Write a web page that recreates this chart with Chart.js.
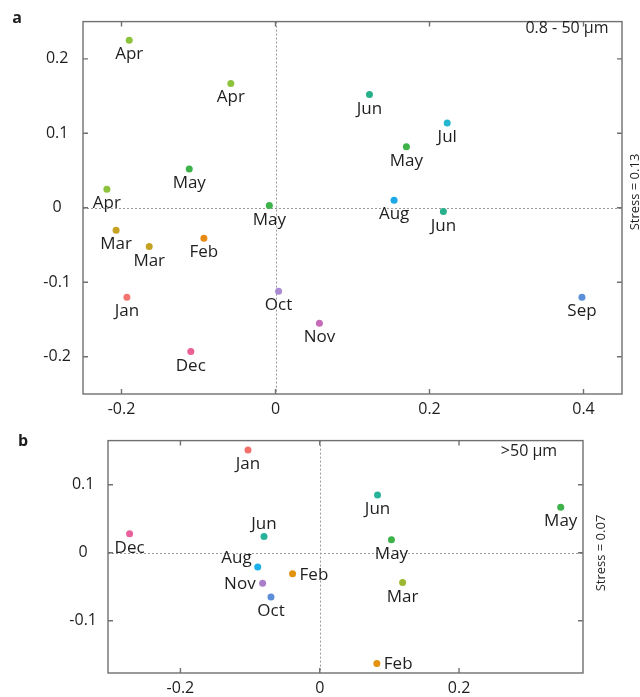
<!DOCTYPE html>
<html>
<head>
<meta charset="utf-8">
<script src="https://cdn.jsdelivr.net/npm/chart.js@4"></script>
<style>
  body { margin: 0; background: #fff; }
  #wrap { position: relative; width: 640px; height: 697px; }
  #chartA { position: absolute; left: 0; top: 0; }
  #chartB { position: absolute; left: 0; top: 420px; }
</style>
</head>
<body>
<div id="wrap">
  <canvas id="chartA" width="640" height="420"></canvas>
  <canvas id="chartB" width="640" height="277"></canvas>
</div>
<script>
// panel a: 0.8 - 50 um
const monthsA = ['Apr', 'Apr', 'May', 'Apr', 'May', 'Mar', 'Mar', 'Feb', 'Jan', 'Dec', 'Oct', 'Nov', 'Sep', 'Aug', 'Jun', 'Jun', 'Jul', 'May'];
const xA = [-0.190, -0.058, -0.112, -0.219, -0.008, -0.207, -0.164, -0.093, -0.193, -0.110, 0.004, 0.057, 0.398, 0.154, 0.218, 0.122, 0.223, 0.170];
const yA = [0.225, 0.167, 0.052, 0.025, 0.003, -0.030, -0.052, -0.041, -0.120, -0.193, -0.112, -0.155, -0.120, 0.010, -0.005, 0.152, 0.114, 0.082];
const xTicksA = [-0.2, 0, 0.2, 0.4];
const yTicksA = [-0.2, -0.1, 0, 0.1, 0.2];

// panel b: >50 um
const monthsB = ['Jan', 'Dec', 'Jun', 'Aug', 'Feb', 'Nov', 'Oct', 'Jun', 'May', 'May', 'Mar', 'Feb'];
const xB = [-0.103, -0.273, -0.080, -0.089, -0.039, -0.082, -0.070, 0.083, 0.346, 0.103, 0.119, 0.082];
const yB = [0.151, 0.028, 0.024, -0.021, -0.031, -0.045, -0.065, 0.085, 0.067, 0.019, -0.044, -0.163];
const xTicksB = [-0.2, 0, 0.2];
const yTicksB = [-0.1, 0, 0.1];

// styles
const colorsA = ['#8dc23c', '#8dc23c', '#3db34a', '#8dc23c', '#3db34a', '#c6a223', '#c6a223', '#e88b12', '#f2766f', '#eb5f95',
  '#a98ad0', '#c56bb8', '#5b8fd9', '#1aa9e6', '#27b089', '#27b089', '#25b6cf', '#3db34a'];
const colorsB = ['#f2706b', '#e8609c', '#26b39a', '#1ab0ea', '#e3930f', '#aa7ec8', '#5f8ed8', '#26b39a', '#3db34a', '#3db34a', '#9ab830', '#e3930f'];
const posA = monthsA.map(() => 'b');
const posB = ['b', 'b', 'a', 'al', 'r', 'l', 'b', 'b', 'b', 'b', 'b', 'r'];

Chart.defaults.font.family = '"Open Sans", sans-serif';
Chart.defaults.color = '#1e1e1e';

const framePlugin = {
  id: 'frame',
  beforeDatasetsDraw(chart, args, o) {
    const ctx = chart.ctx;
    const a = chart.chartArea;
    const sx = chart.scales.x, sy = chart.scales.y;
    ctx.save();
    ctx.strokeStyle = '#9a9a9a';
    ctx.lineWidth = 1;
    ctx.setLineDash([2, 2]);
    let x0 = Math.round(sx.getPixelForValue(0)) + 0.5;
    let y0 = Math.round(sy.getPixelForValue(0)) + 0.5;
    ctx.beginPath();
    ctx.moveTo(x0, a.top); ctx.lineTo(x0, a.bottom);
    ctx.moveTo(a.left, y0); ctx.lineTo(a.right, y0);
    ctx.stroke();
    ctx.setLineDash([]);
    ctx.strokeStyle = '#707070';
    ctx.lineWidth = 1.4;
    ctx.strokeRect(a.left, a.top, a.right - a.left, a.bottom - a.top);
    ctx.beginPath();
    sx.ticks.forEach(t => {
      let p = sx.getPixelForValue(t.value);
      ctx.moveTo(p, a.bottom); ctx.lineTo(p, a.bottom - 5);
      ctx.moveTo(p, a.top); ctx.lineTo(p, a.top + 5);
    });
    sy.ticks.forEach(t => {
      let p = sy.getPixelForValue(t.value);
      ctx.moveTo(a.left, p); ctx.lineTo(a.left + 5, p);
      ctx.moveTo(a.right, p); ctx.lineTo(a.right - 5, p);
    });
    ctx.stroke();
    ctx.restore();
  },
  afterDatasetsDraw(chart, args, o) {
    const ctx = chart.ctx;
    const pts = chart.getDatasetMeta(0).data;
    ctx.save();
    ctx.fillStyle = '#1e1e1e';
    ctx.font = '17px "Open Sans"';
    pts.forEach((pt, i) => {
      let name = o.names[i];
      let pos = o.pos[i];
      if (pos === 'b') {
        ctx.textAlign = 'center';
        ctx.fillText(name, pt.x, pt.y + 19);
      } else if (pos === 'a') {
        ctx.textAlign = 'center';
        ctx.fillText(name, pt.x, pt.y - 7);
      } else if (pos === 'al') {
        ctx.textAlign = 'right';
        ctx.fillText(name, pt.x - 6, pt.y - 4);
      } else if (pos === 'l') {
        ctx.textAlign = 'right';
        ctx.fillText(name, pt.x - 7, pt.y + 6);
      } else {
        ctx.textAlign = 'left';
        ctx.fillText(name, pt.x + 7, pt.y + 6);
      }
    });
    // corner text, panel letter, stress
    ctx.textAlign = 'center';
    ctx.font = '16px "Open Sans"';
    ctx.fillText(o.corner[0], o.corner[1], o.corner[2]);
    ctx.font = 'bold 16px "Open Sans"';
    ctx.textBaseline = 'middle';
    ctx.fillText(o.letter[0], o.letter[1], o.letter[2]);
    ctx.font = '13px "Open Sans"';
    ctx.translate(o.stress[1], o.stress[2]);
    ctx.rotate(-Math.PI / 2);
    ctx.fillText(o.stress[0], 0, 0);
    ctx.restore();
  }
};

function makeChart(id, xs, ys, colors, xTicks, yTicks, range, pad, yWidth, xHeight, yPad, extra) {
  return new Chart(document.getElementById(id), {
    type: 'scatter',
    data: {
      datasets: [{
        data: xs.map((x, i) => ({ x: x, y: ys[i] })),
        backgroundColor: colors,
        borderWidth: 0,
        pointRadius: 3.5,
        pointHoverRadius: 3.5
      }]
    },
    options: {
      responsive: false,
      animation: false,
      events: [],
      layout: { padding: pad },
      plugins: { legend: { display: false }, tooltip: { enabled: false }, frame: extra },
      scales: {
        x: {
          min: range[0], max: range[1],
          grid: { display: false, drawTicks: false },
          border: { display: false },
          afterBuildTicks: s => { s.ticks = xTicks.map(v => ({ value: v })); },
          afterFit: s => { s.height = xHeight; },
          ticks: { padding: 6, font: { size: 16 }, callback: v => String(v) }
        },
        y: {
          min: range[2], max: range[3],
          grid: { display: false, drawTicks: false },
          border: { display: false },
          afterBuildTicks: s => { s.ticks = yTicks.map(v => ({ value: v })); },
          afterFit: s => { s.width = yWidth; },
          ticks: { padding: yPad, crossAlign: 'center', font: { size: 16 }, callback: v => String(v) }
        }
      }
    },
    plugins: [framePlugin]
  });
}

makeChart('chartA', xA, yA, colorsA, xTicksA, yTicksA, [-0.25, 0.45, -0.25, 0.25],
  { top: 9, right: 18, left: 0, bottom: 0 }, 83, 26, 12,
  { names: monthsA, pos: posA, corner: ['0.8 - 50 µm', 567, 33], letter: ['a', 17, 18], stress: ['Stress = 0.13', 635, 192] });

makeChart('chartB', xB, yB, colorsB, xTicksB, yTicksB, [-0.304, 0.378, -0.177, 0.165],
  { top: 14, right: 57, left: 0, bottom: 0 }, 108, 24, 11,
  { names: monthsB, pos: posB, corner: ['>50 µm', 529, 36], letter: ['b', 23, 21], stress: ['Stress = 0.07', 601, 133] });
</script>
</body>
</html>
